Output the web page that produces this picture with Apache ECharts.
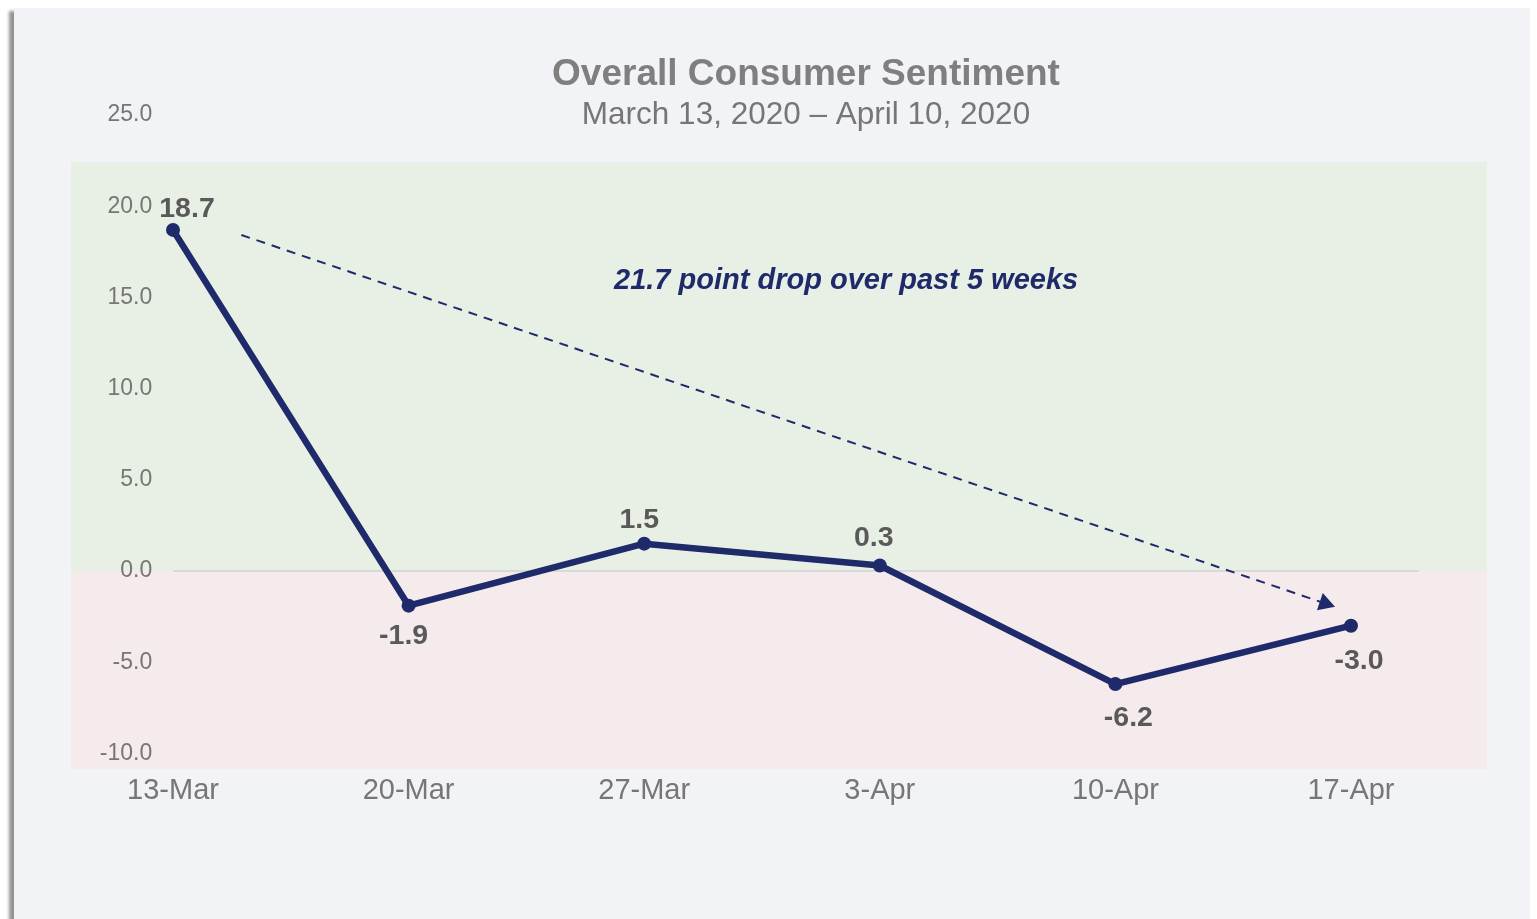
<!DOCTYPE html>
<html>
<head>
<meta charset="utf-8">
<script src="https://cdn.jsdelivr.net/npm/echarts@6/dist/echarts.min.js"></script>
<style>
  html, body { margin: 0; padding: 0; background: #ffffff; width: 1537px; height: 919px; overflow: hidden; }
  #card { position: absolute; left: 14px; top: 8px; width: 1516px; height: 930px; background: #f2f3f7;
          box-shadow: -5px 3px 3px rgba(0,0,0,0.42); }
  #chart { position: absolute; left: 0; top: 0; width: 1537px; height: 919px; }
</style>
</head>
<body>
<div id="card"></div>
<div id="chart"></div>
<script>
// ---- data ----
const categories = ['13-Mar', '20-Mar', '27-Mar', '3-Apr', '10-Apr', '17-Apr'];
const sentiment = [18.7, -1.9, 1.5, 0.3, -6.2, -3.0];
const yTicks = { min: -10, max: 25, interval: 5 };
const titleText = 'Overall Consumer Sentiment';
const subtitleText = 'March 13, 2020 \u2013 April 10, 2020';
const annotationText = '21.7 point drop over past 5 weeks';
// annotation positions in data units (x = category index)
const annotationPos = [2.857, 15.9];
const trendArrow = [[0.29, 18.42], [4.9, -1.82]];
const zeroLine = [[0, 0], [5.289, 0]];
const bandPositive = [-0.433, 22.42, 5.577, 0];
const bandNegative = [-0.433, 0, 5.577, -10.86];

// ---- styling ----
const FONT = "'Liberation Sans', Arial, sans-serif";
const NAVY = '#1f2a6b';
const labelCfg = [
  { position: 'top', offset: [14, 6] },
  { position: 'bottom', offset: [-5, 4] },
  { position: 'top', offset: [-5, 3] },
  { position: 'top', offset: [-6, -1] },
  { position: 'bottom', offset: [13, 8] },
  { position: 'bottom', offset: [8, 9] }
];

const lineData = sentiment.map((v, i) => ({
  value: v,
  label: Object.assign({ show: true }, labelCfg[i])
}));

const chart = echarts.init(document.getElementById('chart'), null, { renderer: 'canvas' });

const option = {
  backgroundColor: 'transparent',
  animation: false,
  title: [
    { text: titleText, left: 801, top: 51, textAlign: 'center',
      textStyle: { fontFamily: FONT, fontSize: 37, fontWeight: 'bold', color: '#7f7f7f' } },
    { text: subtitleText, left: 801, top: 94, textAlign: 'center',
      textStyle: { fontFamily: FONT, fontSize: 31.5, fontWeight: 'normal', color: '#767676' } }
  ],
  grid: { left: 55.2, right: 68.2, top: 115, bottom: 165.6, containLabel: false },
  xAxis: [
    { type: 'category', data: categories, boundaryGap: true,
      axisLine: { show: false }, axisTick: { show: false }, splitLine: { show: false },
      axisLabel: { fontFamily: FONT, fontSize: 29, color: '#767676', margin: 23 } },
    { type: 'value', min: -0.5, max: 5.5, show: false }
  ],
  yAxis: {
    type: 'value', min: yTicks.min, max: yTicks.max, interval: yTicks.interval,
    offset: -99,
    axisLine: { show: false }, axisTick: { show: false }, splitLine: { show: false },
    axisLabel: { fontFamily: FONT, fontSize: 23, color: '#767676', margin: 2,
      verticalAlign: 'middle', lineHeight: 23, padding: [5, 0, 0, 0],
      formatter: v => v.toFixed(1) }
  },
  series: [
    {
      type: 'line', xAxisIndex: 1, data: [], silent: true, z: 1,
      markLine: {
        silent: true, symbol: ['none', 'none'], label: { show: false },
        lineStyle: { color: '#d9d9d9', width: 2, type: 'solid' },
        data: [[{ coord: zeroLine[0] }, { coord: zeroLine[1] }]]
      }
    },
    {
      type: 'line', xAxisIndex: 1, data: [], silent: true, z: 2,
      markLine: {
        silent: true, symbol: ['none', 'triangle'], symbolSize: [18, 16], label: { show: false },
        lineStyle: { color: NAVY, width: 2, type: [9, 7] },
        data: [[{ coord: trendArrow[0] }, { coord: trendArrow[1] }]]
      }
    },
    {
      type: 'scatter', xAxisIndex: 1, symbolSize: 0, silent: true, z: 3,
      itemStyle: { opacity: 1 },
      data: [annotationPos],
      label: { show: true, position: 'inside', formatter: annotationText,
        fontFamily: FONT, fontSize: 29, fontWeight: 'bold', fontStyle: 'italic', color: NAVY }
    },
    {
      type: 'line', data: lineData, z: 5,
      symbol: 'circle', symbolSize: 14,
      lineStyle: { color: NAVY, width: 6.5 },
      itemStyle: { color: NAVY },
      label: { show: true, fontFamily: FONT, fontSize: 28.5, fontWeight: 'bold', color: '#595959',
        formatter: p => p.value.toFixed(1) }
    }
  ]
};
chart.setOption(option);

function bandRect(b, color) {
  const p1 = chart.convertToPixel({ xAxisIndex: 1, yAxisIndex: 0 }, [b[0], b[1]]);
  const p2 = chart.convertToPixel({ xAxisIndex: 1, yAxisIndex: 0 }, [b[2], b[3]]);
  return {
    type: 'rect', z: -10, silent: true,
    shape: { x: p1[0], y: p1[1], width: p2[0] - p1[0], height: p2[1] - p1[1] },
    style: { fill: color }
  };
}
chart.setOption({
  graphic: [
    bandRect(bandPositive, '#e8f0e6'),
    bandRect(bandNegative, '#f5eaec')
  ]
});
</script>
</body>
</html>
